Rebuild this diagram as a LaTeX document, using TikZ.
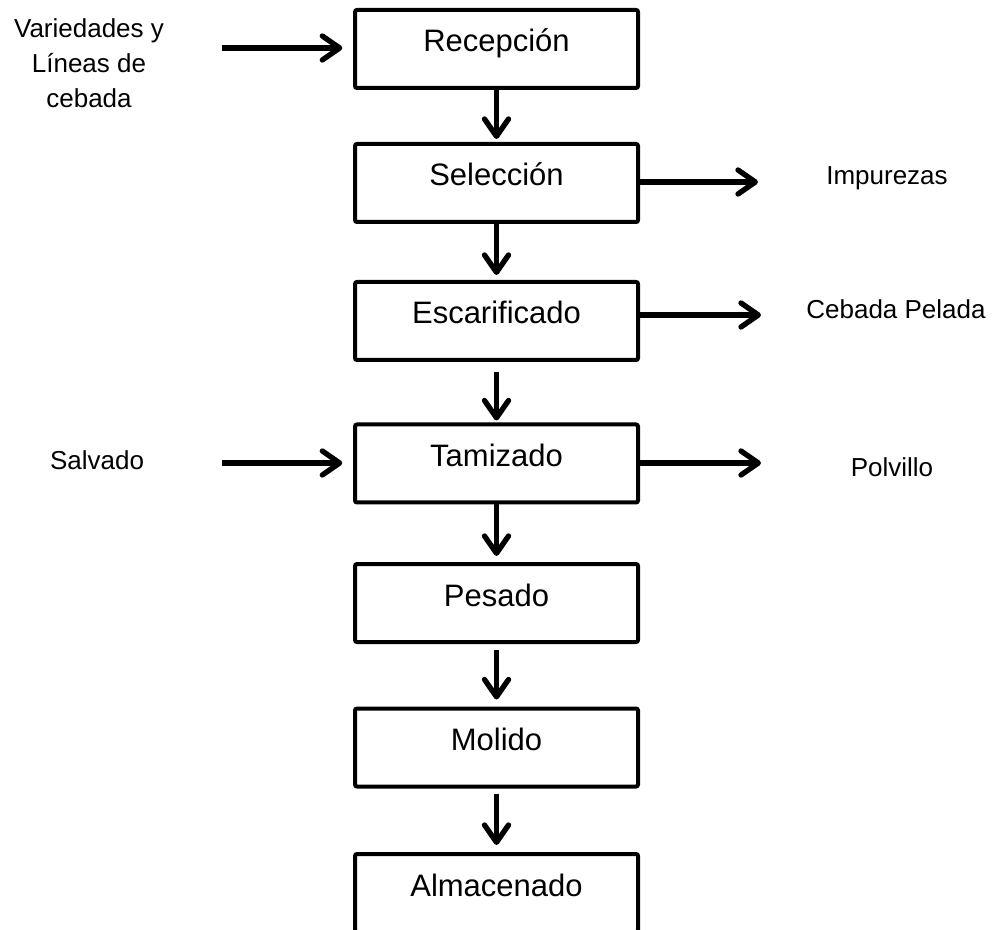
\documentclass[tikz,border=0pt]{standalone}
\usepackage{fontspec}
\setmainfont{Liberation Sans}
\usetikzlibrary{arrows.meta}
\begin{document}
\begin{tikzpicture}[x=0.75pt,y=-0.75pt,
  stage/.style={draw, line width=3pt, rounded corners=1.5pt,
    minimum width=212.25pt, minimum height=58.5pt, inner sep=0pt,
    font=\fontsize{23.25pt}{28pt}\selectfont, text height=16.5pt, text depth=12pt},
  side/.style={font=\fontsize{19.5pt}{26.25pt}\selectfont, inner sep=0pt},
  flow/.style={line width=4pt, -{Straight Barb[length=13pt,width=18pt,round]}},
]
\useasboundingbox (0,0) rectangle (1000,930);

% process stages
\node[stage] (rec) at (496.5,49)  {Recepción};
\node[stage] (sel) at (496.5,183) {Selección};
\node[stage] (esc) at (496.5,321) {Escarificado};
\node[stage] (tam) at (496.5,463.5) {Tamizado};
\node[stage] (pes) at (496.5,603) {Pesado};
\node[stage] (mol) at (496.5,747.5) {Molido};
\node[stage] (alm) at (496.5,893) {Almacenado};

% inputs and outputs
\node[side, align=center] (var) at (89,63) {Variedades y\\Líneas de\\cebada};
\node[side, anchor=base] (salv) at (97,470) {Salvado};
\node[side, anchor=base] (imp) at (887,185) {Impurezas};
\node[side, anchor=base] (ceb) at (896,319) {Cebada Pelada};
\node[side, anchor=base] (pol) at (892,477) {Polvillo};

\coordinate (in1) at (222,48);
\coordinate (in2) at (222,463);
\coordinate (out1) at (758,182);
\coordinate (out2) at (761,315);
\coordinate (out3) at (761,463);

% main flow
\draw[flow, shorten >=2.25pt] (rec) -- (sel);
\draw[flow, shorten >=3.75pt] (sel) -- (esc);
\draw[flow, shorten <=7.5pt, shorten >=1.5pt] (esc) -- (tam);
\draw[flow, shorten >=4.5pt] (tam) -- (pes);
\draw[flow, shorten <=4.5pt, shorten >=5.25pt] (pes) -- (mol);
\draw[flow, shorten <=3.75pt, shorten >=5.25pt] (mol) -- (alm);

% side streams
\draw[flow, shorten >=8pt] (in1) -- (rec.west |- in1);
\draw[flow, shorten >=8pt] (in2) -- (tam.west |- in2);
\draw[flow] (sel.east |- out1) -- (out1);
\draw[flow] (esc.east |- out2) -- (out2);
\draw[flow] (tam.east |- out3) -- (out3);
\end{tikzpicture}
\end{document}
